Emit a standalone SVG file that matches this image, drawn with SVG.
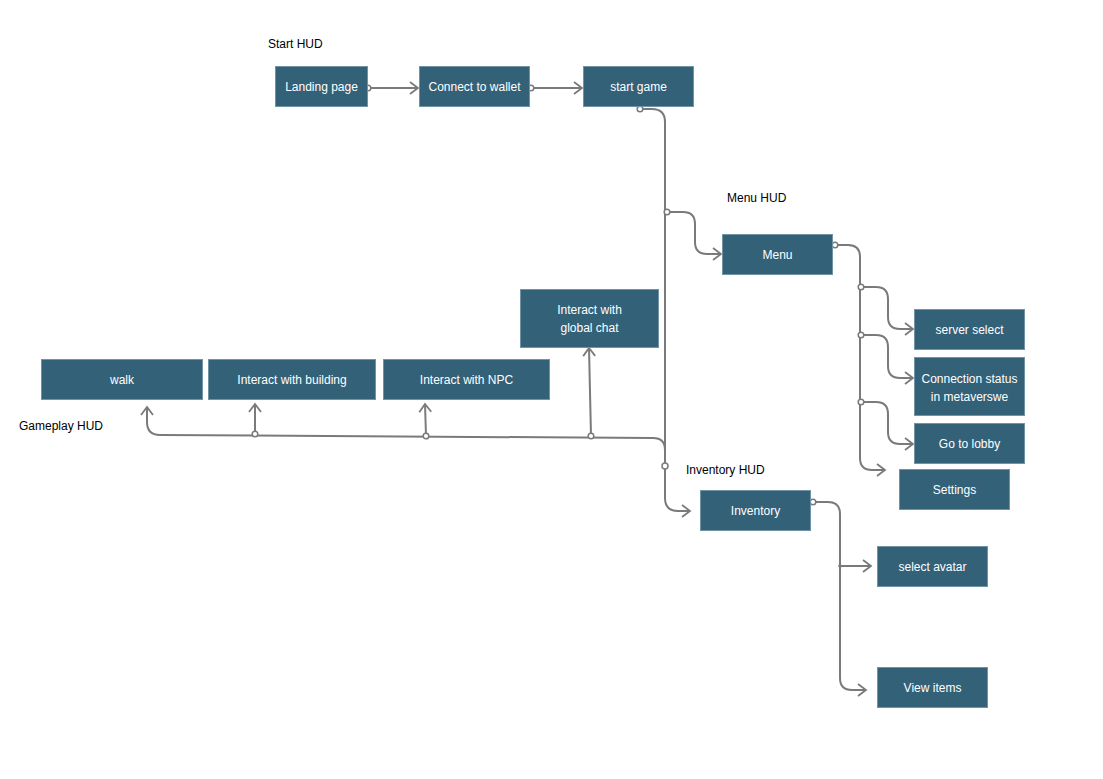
<svg xmlns="http://www.w3.org/2000/svg" width="1103" height="779" viewBox="0 0 1103 779">
<style>
.n{fill:#336178;stroke:#6f94a6;stroke-width:1}
.t{font-family:"Liberation Sans",Arial,sans-serif;font-size:12px;fill:#ffffff;text-anchor:middle}
.l{font-family:"Liberation Sans",Arial,sans-serif;font-size:12px;fill:#000000}
.c{fill:none;stroke:#7a7a7a;stroke-width:2}
</style>
<defs>
<marker id="ar" markerUnits="userSpaceOnUse" markerWidth="16" markerHeight="16" refX="11" refY="8" orient="auto">
<path d="M3,2 L11,8 L3,14" fill="none" stroke="#7a7a7a" stroke-width="1.8"/>
</marker>
<marker id="ci" markerUnits="userSpaceOnUse" markerWidth="10" markerHeight="10" refX="5" refY="5" orient="auto">
<circle cx="5" cy="5" r="2.8" fill="#ffffff" stroke="#7a7a7a" stroke-width="1.5"/>
</marker>
</defs>
<rect width="1103" height="779" fill="#ffffff"/>
<text class="l" x="268" y="48">Start HUD</text>
<text class="l" x="727" y="202">Menu HUD</text>
<text class="l" x="686" y="474">Inventory HUD</text>
<text class="l" x="19" y="430">Gameplay HUD</text>
<g id="connectors">
<path class="c" d="M368,88 H418" marker-start="url(#ci)" marker-end="url(#ar)"/>
<path class="c" d="M531,88 H582" marker-start="url(#ci)" marker-end="url(#ar)"/>
<path class="c" d="M640,109 H652 Q665,109 665,122 V498 Q665,511 678,511 H690" marker-start="url(#ci)" marker-end="url(#ar)"/>
<circle cx="665" cy="466" r="3" fill="#fff" stroke="#7a7a7a" stroke-width="1.5"/>
<path class="c" d="M667,212 H683 Q695,212 695,224 V242 Q695,254 707,254 H721" marker-start="url(#ci)" marker-end="url(#ar)"/>
<path class="c" d="M665,450 Q665,438 653,438 L160,435 Q147,435 147,422 V407" marker-end="url(#ar)"/>
<path class="c" d="M255,434 V404" marker-start="url(#ci)" marker-end="url(#ar)"/>
<path class="c" d="M426,436 L425,404" marker-start="url(#ci)" marker-end="url(#ar)"/>
<path class="c" d="M591,436 L589,348" marker-start="url(#ci)" marker-end="url(#ar)"/>
<path class="c" d="M835,245 H848 Q860,245 860,257 V458 Q860,470 872,470 H885" marker-start="url(#ci)" marker-end="url(#ar)"/>
<path class="c" d="M861,287 H876 Q888,287 888,299 V317 Q888,329 900,329 H913" marker-start="url(#ci)" marker-end="url(#ar)"/>
<path class="c" d="M861,335 H876 Q888,335 888,347 V366 Q888,378 900,378 H913" marker-start="url(#ci)" marker-end="url(#ar)"/>
<path class="c" d="M861,402 H876 Q888,402 888,414 V432 Q888,444 900,444 H913" marker-start="url(#ci)" marker-end="url(#ar)"/>
<path class="c" d="M813,502 H828 Q840,502 840,514 V678 Q840,690 852,690 H866" marker-start="url(#ci)" marker-end="url(#ar)"/>
<path class="c" d="M840,566 H871" marker-end="url(#ar)"/>
<circle cx="840" cy="566" r="1.8" fill="#7a7a7a"/>
</g>
<g id="landing"><rect class="n" x="275.5" y="66.5" width="92" height="40"/><text class="t" x="321.5" y="91">Landing page</text></g>
<g id="wallet"><rect class="n" x="419.5" y="66.5" width="110" height="40"/><text class="t" x="474.5" y="91">Connect to wallet</text></g>
<g id="startgame"><rect class="n" x="583.5" y="66.5" width="110" height="40"/><text class="t" x="638.5" y="91">start game</text></g>
<g id="menu"><rect class="n" x="722.5" y="234.5" width="110" height="40"/><text class="t" x="777.5" y="259">Menu</text></g>
<g id="server"><rect class="n" x="914.5" y="309.5" width="110" height="40"/><text class="t" x="969.5" y="334">server select</text></g>
<g id="connection"><rect class="n" x="914.5" y="357.5" width="110" height="58"/><text class="t" x="969.5" y="383">Connection status</text><text class="t" x="969.5" y="401">in metaverswe</text></g>
<g id="lobby"><rect class="n" x="914.5" y="423.5" width="110" height="40"/><text class="t" x="969.5" y="448">Go to lobby</text></g>
<g id="settings"><rect class="n" x="899.5" y="469.5" width="110" height="40"/><text class="t" x="954.5" y="494">Settings</text></g>
<g id="inventory"><rect class="n" x="700.5" y="490.5" width="110" height="40"/><text class="t" x="755.5" y="515">Inventory</text></g>
<g id="avatar"><rect class="n" x="877.5" y="546.5" width="110" height="40"/><text class="t" x="932.5" y="571">select avatar</text></g>
<g id="items"><rect class="n" x="877.5" y="667.5" width="110" height="40"/><text class="t" x="932.5" y="692">View items</text></g>
<g id="chat"><rect class="n" x="520.5" y="289.5" width="138" height="58"/><text class="t" x="589.5" y="314">Interact with</text><text class="t" x="589.5" y="332">global chat</text></g>
<g id="walk"><rect class="n" x="41.5" y="359.5" width="161" height="40"/><text class="t" x="122" y="384">walk</text></g>
<g id="building"><rect class="n" x="208.5" y="359.5" width="167" height="40"/><text class="t" x="292" y="384">Interact with building</text></g>
<g id="npc"><rect class="n" x="383.5" y="359.5" width="166" height="40"/><text class="t" x="466.5" y="384">Interact with NPC</text></g>
</svg>
